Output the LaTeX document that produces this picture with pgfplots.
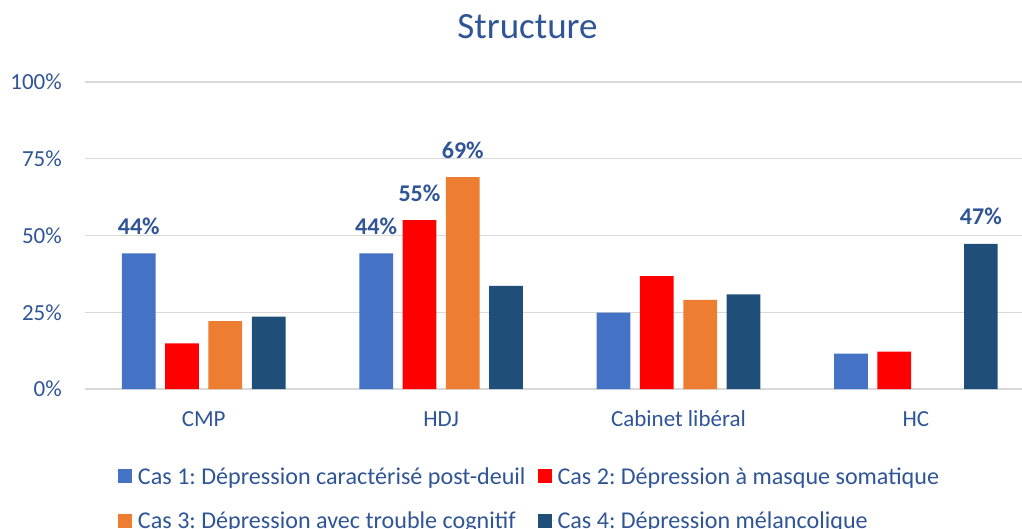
\documentclass[border=0pt]{standalone}
\usepackage{fontspec}
\setmainfont{Carlito}
\usepackage{pgfplots}
\pgfplotsset{compat=1.18}
\definecolor{txt}{HTML}{2F5597}
\definecolor{c1}{HTML}{4472C4}
\definecolor{c2}{HTML}{FF0000}
\definecolor{c3}{HTML}{ED7D31}
\definecolor{c4}{HTML}{1F4E79}
\definecolor{gridc}{HTML}{D9D9D9}
\begin{document}
\frenchspacing
\begin{tikzpicture}[x=1pt,y=1pt]
\begin{axis}[
  at={(85pt,139pt)}, anchor=south west,
  scale only axis, width=949.6pt, height=307pt,
  xmin=-0.5, xmax=3.5, ymin=0, ymax=100,
  enlargelimits=false, clip=false,
  ybar, bar width=0.142,
  axis x line*=bottom, axis y line*=left,
  y axis line style={draw=none},
  x axis line style={draw=gridc, line width=1.3pt},
  ymajorgrids, grid style={draw=gridc, line width=1.3pt},
  major tick length=0pt,
  xtick={0,1,2,3},
  xticklabels={CMP,HDJ,Cabinet libéral,HC},
  ytick={0,25,50,75,100},
  yticklabels={0\%,25\%,50\%,75\%,100\%},
  ticklabel style={font=\fontsize{23}{27}\selectfont, text=txt, inner sep=0pt},
  yticklabel style={anchor=east, xshift=-23pt},
  xticklabel style={anchor=base, yshift=-37pt},
  point meta=explicit symbolic,
  nodes near coords,
  nodes near coords style={font=\bfseries\fontsize{24}{28}\selectfont, text=txt, anchor=base, inner sep=0pt, yshift=19pt},
  legend columns=2,
  legend cell align=left,
  legend image code/.code={\fill[#1] (0pt,-7pt) rectangle (14pt,7pt); \path (0pt,0pt) -- (17pt,0pt);},
  legend style={at={(0.03475,-0.357)}, anchor=west, draw=none, fill=none,
    inner sep=0pt, outer sep=0pt,
    font=\fontsize{24.1}{28}\selectfont, text=txt,
    nodes={inner sep=3pt},
    row sep=20pt,
    /tikz/every even column/.append style={column sep=9pt}},
]
\addplot[fill=c1, draw=none, bar shift=-0.2736] coordinates {(0,44.2)[44\%] (1,44.2)[44\%] (2,24.9)[{}] (3,11.5)[{}]};
\addlegendentry{Cas 1: Dépression caractérisé post-deuil}
\addplot[fill=c2, draw=none, bar shift=-0.0912] coordinates {(0,14.9)[{}] (1,55.0)[55\%] (2,36.8)[{}] (3,12.2)[{}]};
\addlegendentry{Cas 2: Dépression à masque somatique}
\addplot[fill=c3, draw=none, bar shift=0.0912] coordinates {(0,22.1)[{}] (1,69.0)[69\%] (2,29.0)[{}]};
\addlegendentry{Cas 3: Dépression avec trouble cognitif}
\addplot[fill=c4, draw=none, bar shift=0.2736] coordinates {(0,23.6)[{}] (1,33.6)[{}] (2,30.8)[{}] (3,47.3)[47\%]};
\addlegendentry{Cas 4: Dépression mélancolique}
\end{axis}
\node[font=\fontsize{37}{44}\selectfont, text=txt, anchor=base, inner sep=0pt] at (527.5,489.7) {Structure};
\pgfresetboundingbox
\useasboundingbox (0,0) rectangle (1022,528);
\end{tikzpicture}
\end{document}
